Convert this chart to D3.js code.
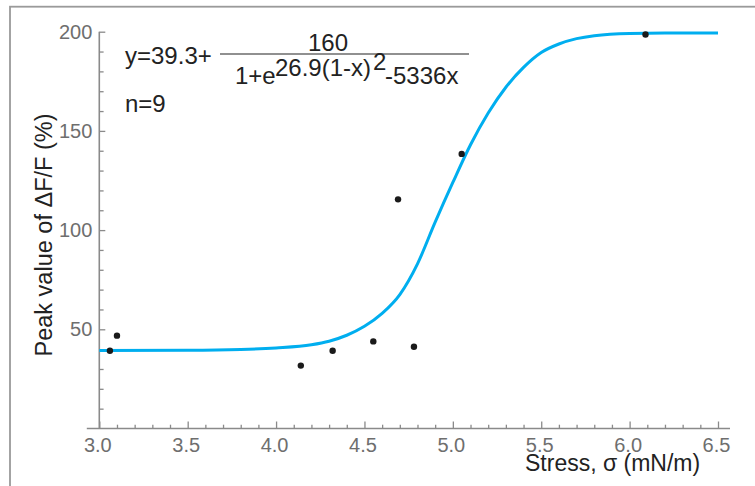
<!DOCTYPE html>
<html>
<head>
<meta charset="utf-8">
<script src="https://cdn.jsdelivr.net/npm/d3@7"></script>
<style>
  body { margin: 0; background: #fff; }
  text { font-family: "Liberation Sans", Arial, Helvetica, sans-serif; }
</style>
</head>
<body>
<svg id="chart"></svg>
<script>
const width = 755, height = 486

// measured points
const pointX = [3.06, 3.10, 4.14, 4.32, 4.55, 4.69, 4.78, 5.05, 6.09]
const pointY = [39.2, 46.8, 31.7, 39.2, 43.9, 115.5, 41.2, 138.4, 198.6]

// fitted curve
const fitX = [3.0, 3.5, 3.8, 4.0, 4.2, 4.3, 4.4, 4.5, 4.6, 4.7, 4.8, 4.9, 5.0, 5.1, 5.2, 5.3, 5.4, 5.5, 5.6, 5.7, 5.8, 6.0, 6.2, 6.5]
const fitY = [39.3, 39.4, 39.8, 40.6, 42.2, 44.0, 47.0, 51.5, 58.0, 67.5, 83.0, 104, 124, 143, 159, 172, 182, 189.5, 193.8, 196.5, 198, 199.1, 199.3, 199.3]

const xTicks = [3.0, 3.5, 4.0, 4.5, 5.0, 5.5, 6.0, 6.5]
const yTicks = [50, 100, 150, 200]

const svg = d3.select("svg#chart")
    .attr("width", width)
    .attr("height", height)
    .attr("viewBox", [0, 0, width, height])
    .style("background", "#ffffff")

// outer frame (runs off right and bottom)
svg.append("rect")
    .attr("x", 10).attr("y", 6.7)
    .attr("width", 770).attr("height", 500)
    .attr("fill", "none")
    .attr("stroke", "#9a9a9a")
    .attr("stroke-width", 1.8)

const x = d3.scaleLinear().domain([3.0, 6.5]).range([99.3, 718])
const y = d3.scaleLinear().domain([0, 200]).range([428.5, 31.7])

const axisColor = "#8a8a8a", labelColor = "#6e6e6e"

// x axis
const xMinor = d3.range(3.0, 6.55, 0.1).filter(v => Math.abs(v * 2 - Math.round(v * 2)) > 1e-6)
const gx = svg.append("g").attr("transform", `translate(0,${y(0)})`)
gx.append("line")
    .attr("x1", x.range()[0] - 12.5).attr("x2", x.range()[1] + 12)
    .attr("stroke", axisColor).attr("stroke-width", 1.6)
gx.append("g")
    .call(d3.axisBottom(x).tickValues(xMinor).tickSizeInner(-3.8).tickSizeOuter(0).tickFormat(""))
    .call(g => g.select(".domain").remove())
    .call(g => g.selectAll("line").attr("stroke", axisColor).attr("stroke-width", 1.3))
gx.append("g")
    .call(d3.axisBottom(x).tickValues(xTicks).tickSizeInner(-7).tickSizeOuter(0).tickPadding(9).tickFormat(d3.format(".1f")))
    .call(g => g.select(".domain").remove())
    .call(g => g.selectAll("line").attr("stroke", axisColor).attr("stroke-width", 1.3))
    .call(g => g.selectAll("text").attr("fill", labelColor).attr("font-size", 20)
        .attr("dx", -2)
        .attr("font-family", "'Liberation Sans', Arial, sans-serif"))

// y axis
const yMinor = d3.range(10, 200, 10).filter(v => v % 50 !== 0)
const gy = svg.append("g").attr("transform", `translate(${x(3.0)},0)`)
gy.append("line")
    .attr("y1", y(0)).attr("y2", y(200))
    .attr("stroke", axisColor).attr("stroke-width", 1.6)
gy.append("g")
    .call(d3.axisLeft(y).tickValues(yMinor).tickSizeInner(-4.3).tickSizeOuter(0).tickFormat(""))
    .call(g => g.select(".domain").remove())
    .call(g => g.selectAll("line").attr("stroke", axisColor).attr("stroke-width", 1.3))
gy.append("g")
    .call(d3.axisLeft(y).tickValues(yTicks).tickSizeInner(-6).tickSizeOuter(0).tickPadding(7))
    .call(g => g.select(".domain").remove())
    .call(g => g.selectAll("line").attr("stroke", axisColor).attr("stroke-width", 1.3))
    .call(g => g.selectAll("text").attr("fill", labelColor).attr("font-size", 20)
        .attr("font-family", "'Liberation Sans', Arial, sans-serif"))

// fitted curve
const line = d3.line()
    .x(d => x(d[0]))
    .y(d => y(d[1]))
    .curve(d3.curveMonotoneX)

svg.append("path")
    .datum(d3.zip(fitX, fitY))
    .attr("d", line)
    .attr("fill", "none")
    .attr("stroke", "#00aeef")
    .attr("stroke-width", 3)

// data points
svg.append("g")
    .selectAll("circle")
    .data(d3.zip(pointX, pointY))
    .enter()
    .append("circle")
    .attr("cx", d => x(d[0]))
    .attr("cy", d => y(d[1]))
    .attr("r", 3.2)
    .attr("fill", "#1a1a1a")

// axis titles
svg.append("text")
    .attr("x", 525).attr("y", 471)
    .attr("font-size", 23)
    .attr("fill", "#222")
    .text("Stress, σ (mN/m)")

svg.append("text")
    .attr("transform", "translate(52,235) rotate(-90)")
    .attr("text-anchor", "middle")
    .attr("font-size", 23.5)
    .attr("fill", "#222")
    .text("Peak value of ΔF/F (%)")

// fit equation
const eq = svg.append("g").attr("fill", "#222").attr("font-size", 24)
eq.append("text").attr("x", 125).attr("y", 64).text("y=39.3+")
eq.append("text").attr("x", 328).attr("y", 51).attr("text-anchor", "middle").text("160")
eq.append("line")
    .attr("x1", 220).attr("x2", 469).attr("y1", 54).attr("y2", 54)
    .attr("stroke", "#222").attr("stroke-width", 1.2)
eq.append("text").attr("x", 235).attr("y", 84).text("1+e")
eq.append("text").attr("x", 275).attr("y", 76).text("26.9(1-x)")
eq.append("text").attr("x", 373).attr("y", 70).text("2")
eq.append("text").attr("x", 385).attr("y", 84).text("-5336x")
eq.append("text").attr("x", 125).attr("y", 112).text("n=9")
</script>
</body>
</html>
